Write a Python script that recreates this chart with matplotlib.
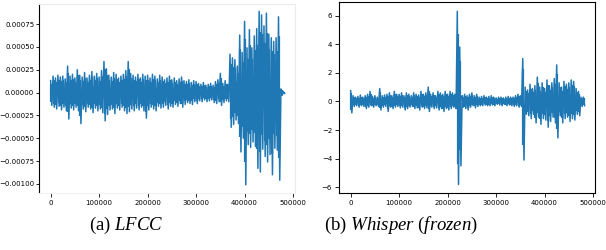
import numpy as np
import matplotlib
matplotlib.use("Agg")
import matplotlib.pyplot as plt

plt.rcParams['mathtext.fontset'] = 'custom'
plt.rcParams['mathtext.rm'] = 'Liberation Serif'
plt.rcParams['mathtext.it'] = 'Liberation Serif:italic'

# sample positions (thousands of samples), every 5k
pos_k = list(range(0, 485, 5))

# LFCC envelope peaks (units of 1e-4)
lfcc_hi = [1.3, 1.8, 1.6, 1.9, 1.7, 1.8, 1.5, 2.9, 1.8, 2.0,
           1.6, 2.5, 1.9, 1.7, 2.2, 1.6, 1.9, 2.3, 1.8, 2.1,
           1.7, 2.4, 3.4, 2.6, 1.9, 1.7, 2.2, 2.0, 1.6, 1.8,
           2.0, 2.4, 3.4, 2.1, 1.9, 1.7, 2.0, 1.6, 2.0, 1.8,
           1.9, 1.6, 2.0, 1.8, 1.5, 1.9, 1.7, 1.4, 1.6, 1.8,
           1.4, 1.6, 1.3, 1.5, 1.7, 1.3, 1.2, 1.4, 1.1, 1.3,
           1.2, 1.0, 0.9, 1.1, 0.8, 0.9, 1.0, 0.8, 1.2, 1.4,
           2.1, 1.0, 1.3, 0.9, 4.2, 3.8, 3.6, 2.9, 6.3, 4.4,
           7.8, 4.9, 6.9, 4.9, 6.2, 7.0, 8.9, 8.5, 7.3, 8.7,
           6.4, 6.0, 5.6, 6.0, 8.3, 0.4, 0.1]
lfcc_lo = [1.4, 1.6, 1.8, 1.5, 1.9, 1.6, 2.0, 2.9, 1.7, 1.9,
           1.6, 2.0, 3.4, 1.8, 2.1, 1.6, 1.8, 2.2, 1.7, 2.0,
           1.8, 2.2, 3.1, 2.4, 1.9, 1.8, 2.3, 1.7, 1.9, 1.6,
           2.0, 2.3, 2.1, 1.8, 2.0, 1.7, 1.9, 1.6, 2.0, 2.8,
           1.9, 1.6, 1.8, 2.0, 1.5, 1.7, 1.6, 1.4, 1.8, 1.5,
           1.6, 1.3, 1.5, 1.2, 1.6, 1.3, 1.1, 1.2, 1.3, 1.0,
           1.2, 0.9, 1.0, 0.8, 1.0, 0.9, 0.8, 1.1, 1.2, 1.0,
           1.4, 1.1, 0.9, 1.0, 3.8, 3.5, 3.0, 3.4, 6.5, 5.0,
           10.1, 5.7, 6.0, 5.4, 5.9, 8.3, 8.7, 6.2, 7.0, 7.6,
           6.8, 9.0, 6.1, 6.3, 9.6, 0.3, 0.1]

# Whisper (frozen) envelope peaks
whisper_hi = [0.75, 0.4, 0.3, 0.35, 0.45, 0.3, 0.4, 0.5, 0.7, 0.35,
              0.4, 0.3, 0.9, 0.4, 0.45, 0.5, 0.6, 0.4, 0.7, 0.5,
              0.5, 0.6, 0.4, 0.6, 0.5, 0.4, 0.6, 0.5, 0.45, 0.7,
              0.5, 0.6, 1.0, 0.5, 0.6, 0.4, 0.7, 0.6, 0.5, 0.7,
              0.5, 0.7, 0.6, 0.5, 6.3, 3.8, 0.4, 0.5, 0.4, 0.5,
              0.6, 0.4, 0.5, 0.3, 0.35, 0.4, 0.3, 0.35, 0.4, 0.3,
              0.25, 0.3, 0.3, 0.25, 0.3, 0.35, 0.3, 0.3, 0.4, 0.5,
              0.4, 3.0, 1.0, 0.8, 1.2, 0.9, 1.1, 1.7, 1.0, 1.3,
              0.9, 1.5, 1.1, 1.3, 1.6, 2.55, 1.3, 1.0, 1.4, 1.2,
              1.3, 1.5, 1.4, 0.9, 0.7, 0.3, 0.3]
whisper_lo = [0.8, 0.35, 0.3, 0.4, 0.3, 0.35, 0.5, 0.4, 0.3, 0.4,
              0.3, 0.35, 0.6, 0.4, 0.35, 0.7, 0.4, 0.5, 0.4, 0.35,
              0.45, 0.4, 0.6, 0.5, 0.4, 0.35, 0.5, 0.45, 0.6, 0.4,
              0.5, 0.45, 0.7, 0.4, 0.5, 0.45, 0.6, 0.5, 0.7, 0.5,
              0.6, 0.5, 0.4, 0.5, 5.8, 4.5, 0.4, 0.5, 0.6, 0.4,
              0.3, 0.45, 0.35, 0.3, 0.3, 0.25, 0.3, 0.3, 0.25, 0.3,
              0.2, 0.25, 0.3, 0.2, 0.3, 0.25, 0.3, 0.35, 0.3, 0.4,
              0.35, 4.1, 0.9, 1.0, 1.2, 0.9, 1.5, 1.1, 1.6, 1.2,
              1.3, 1.8, 1.4, 1.1, 1.5, 2.55, 1.0, 1.5, 1.2, 1.1,
              1.4, 1.2, 1.3, 0.9, 1.0, 0.35, 0.3]

captions = [r'(a) $\mathit{LFCC}$', r'(b) $\mathit{Whisper\ (frozen)}$']


def zigzag(pos, hi, lo, scale):
    xs, ys = [], []
    for p, h, l in zip(pos, hi, lo):
        xs += [p * 1000, p * 1000 + 2500]
        ys += [h * scale, -l * scale]
    return np.array(xs), np.array(ys)


fig = plt.figure(figsize=(6.06, 2.5), dpi=100)
ax1 = fig.add_axes([39 / 606, 57 / 250, 256 / 606, 189 / 250])
ax2 = fig.add_axes([339 / 606, 57 / 250, 256 / 606, 191 / 250])

col = '#1f77b4'
for ax, hi, lo, sc in ((ax1, lfcc_hi, lfcc_lo, 1e-4),
                       (ax2, whisper_hi, whisper_lo, 1.0)):
    xs, ys = zigzag(pos_k, hi, lo, sc)
    ax.plot(xs, ys, color=col, lw=1.1)
    px = np.array(pos_k) * 1000 + 1250
    ax.vlines(px, -np.array(lo) * sc * 0.75, np.array(hi) * sc * 0.75,
              color=col, lw=1.6)

ax1.set_xlim(-24000, 504000)
ax1.set_ylim(-0.0011, 0.00097)
ax1.set_yticks([-0.001, -0.00075, -0.0005, -0.00025, 0, 0.00025, 0.0005, 0.00075])
ax2.set_xlim(-24000, 504000)
ax2.set_ylim(-6.4, 6.95)
ax2.set_yticks([-6, -4, -2, 0, 2, 4, 6])

for ax in (ax1, ax2):
    ax.set_xticks([0, 100000, 200000, 300000, 400000, 500000])
    ax.tick_params(labelsize=5, length=3, width=0.6, pad=2)
    for s in ax.spines.values():
        s.set_linewidth(0.8)

ax1.tick_params(axis='y', length=2, pad=1.5)
for s in ('top', 'right'):
    ax1.spines[s].set_color('#ececec')
ax1.spines['bottom'].set_color('#f2f2f2')

fig.text(126 / 606, 0.1, captions[0], ha='center', va='center',
         fontsize=13.5, family='Liberation Serif')
fig.text(401 / 606, 0.1, captions[1], ha='center', va='center',
         fontsize=13.5, family='Liberation Serif')

fig.savefig('out.png', dpi=100)
